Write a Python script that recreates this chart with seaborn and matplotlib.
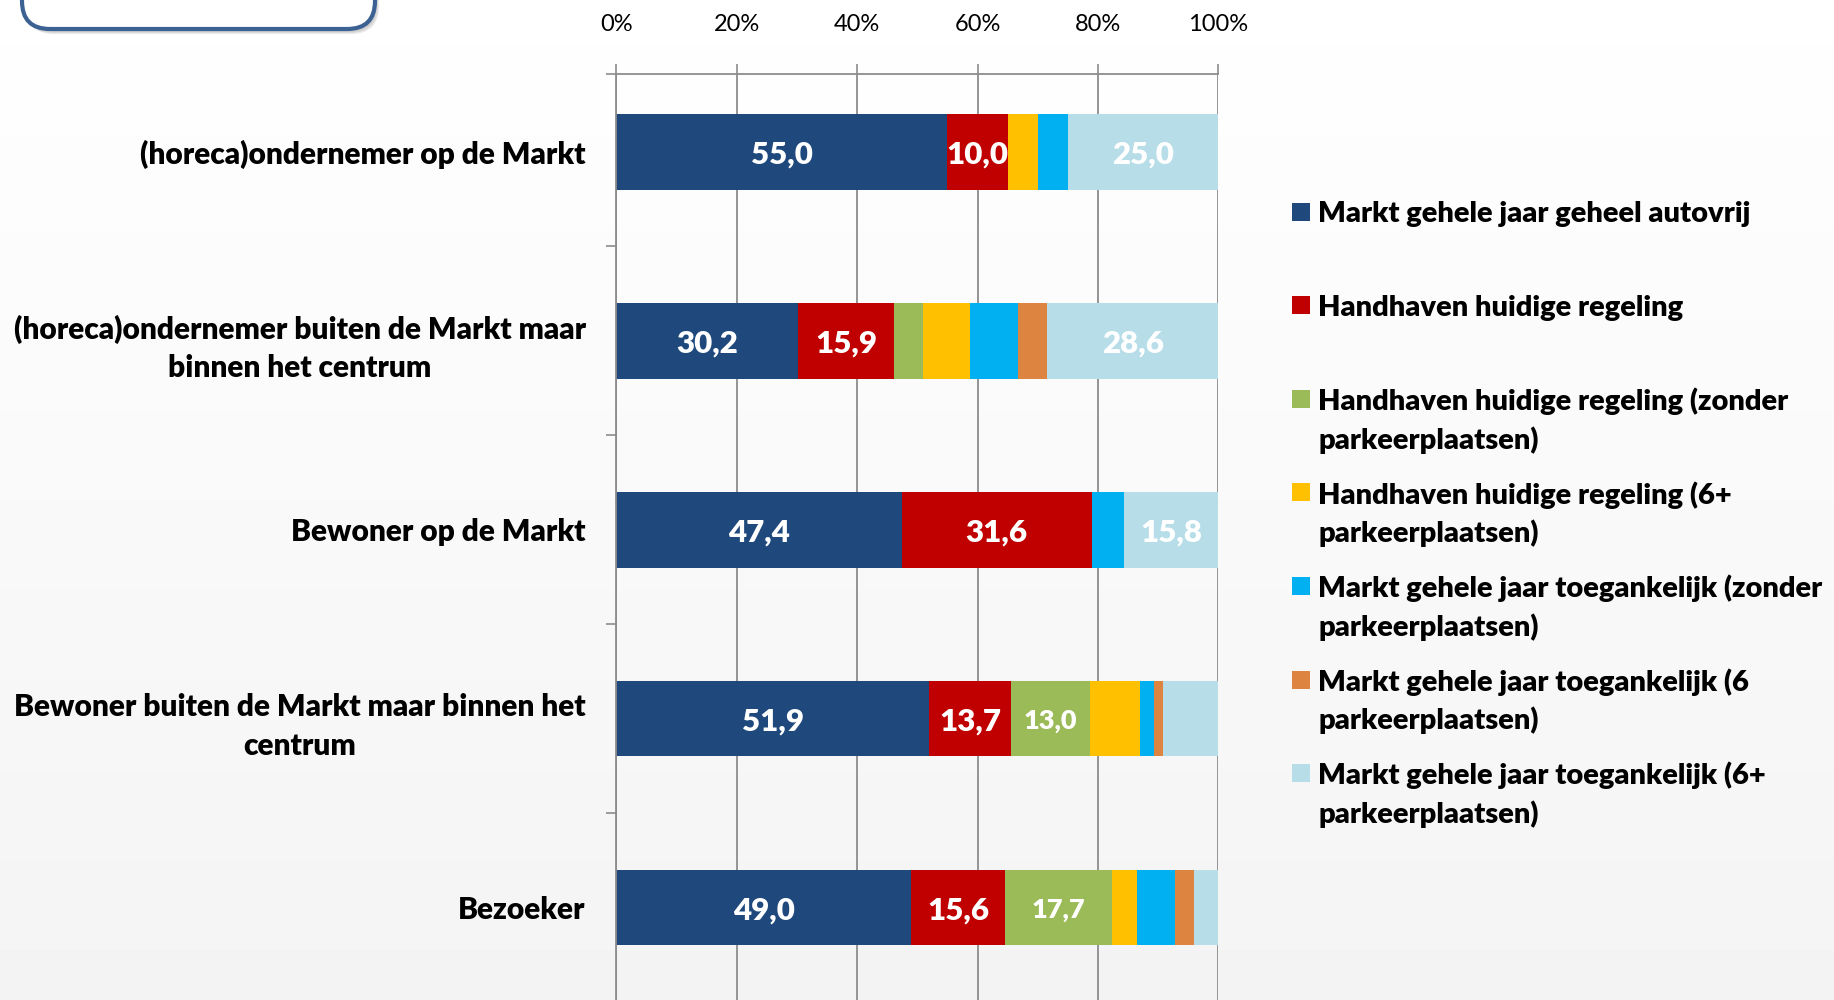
import numpy as np
import pandas as pd
import seaborn as sns
import matplotlib.pyplot as plt
from matplotlib.patches import FancyBboxPatch, Rectangle

# Data (percentages per respondent group)
categories = ['(horeca)ondernemer op de Markt',
              '(horeca)ondernemer buiten de Markt maar\nbinnen het centrum',
              'Bewoner op de Markt',
              'Bewoner buiten de Markt maar binnen het\ncentrum',
              'Bezoeker']

series_names = ['Markt gehele jaar geheel autovrij',
                'Handhaven huidige regeling',
                'Handhaven huidige regeling (zonder parkeerplaatsen)',
                'Handhaven huidige regeling (6+ parkeerplaatsen)',
                'Markt gehele jaar toegankelijk (zonder parkeerplaatsen)',
                'Markt gehele jaar toegankelijk (6 parkeerplaatsen)',
                'Markt gehele jaar toegankelijk (6+ parkeerplaatsen)']

legend_lines = [['Markt gehele jaar geheel autovrij'],
                ['Handhaven huidige regeling'],
                ['Handhaven huidige regeling (zonder', 'parkeerplaatsen)'],
                ['Handhaven huidige regeling (6+', 'parkeerplaatsen)'],
                ['Markt gehele jaar toegankelijk (zonder', 'parkeerplaatsen)'],
                ['Markt gehele jaar toegankelijk (6', 'parkeerplaatsen)'],
                ['Markt gehele jaar toegankelijk (6+', 'parkeerplaatsen)']]

autovrij = [55.0, 30.2, 47.4, 51.9, 49.0]
huidig = [10.0, 15.9, 31.6, 13.7, 15.6]
huidig_zonder = [0.0, 4.8, 0.0, 13.0, 17.7]
huidig_6plus = [5.0, 7.9, 0.0, 8.4, 4.2]
toeg_zonder = [5.0, 7.9, 5.3, 2.3, 6.3]
toeg_6 = [0.0, 4.8, 0.0, 1.5, 3.1]
toeg_6plus = [25.0, 28.6, 15.8, 9.2, 4.2]

colors = ['#1F497D', '#C00000', '#9BBB59', '#FFC000', '#00B0F0', '#DC8440', '#B7DEE8']
xticks = [0, 20, 40, 60, 80, 100]

df = pd.DataFrame(dict(zip(series_names,
                           [autovrij, huidig, huidig_zonder, huidig_6plus,
                            toeg_zonder, toeg_6, toeg_6plus])))
df['categorie'] = categories
cum = df[series_names].cumsum(axis=1)
cum['categorie'] = categories

plt.rcParams['font.family'] = ['Lato', 'DejaVu Sans']
grid_col = '#8c8c8c'
weight = 'heavy'

fig = plt.figure(figsize=(18.34, 10), dpi=100)

# background with soft gradient
bg = fig.add_axes([0, 0, 1, 1], zorder=0)
grad = np.linspace(0.998, 0.955, 200).reshape(-1, 1)
bg.imshow(grad, cmap='gray', vmin=0, vmax=1, aspect='auto',
          extent=[0, 1834, 1000, 0])
bg.set_xlim(0, 1834)
bg.set_ylim(1000, 0)
bg.axis('off')

# top-left rounded box with shadow
for k, a in enumerate([0.12, 0.12, 0.15]):
    bg.add_patch(FancyBboxPatch((22 + 2 + k, -60 + 3 + k), 353, 89,
                                boxstyle='round,pad=0,rounding_size=28',
                                fc='#707070', ec='none', alpha=a))
bg.add_patch(FancyBboxPatch((22, -60), 353, 89,
                            boxstyle='round,pad=0,rounding_size=28',
                            fc='white', ec='#3C6294', lw=3))

# main chart
ax = fig.add_axes([616.3 / 1834, 0, (1218.4 - 616.3) / 1834, (1000 - 73.6) / 1000],
                  zorder=1)
ax.set_facecolor('none')

# stacked bars: draw cumulative totals from the last series to the first
for name, col in reversed(list(zip(series_names, colors))):
    sns.barplot(data=cum, x=name, y='categorie', color=col, saturation=1,
                width=0.4, orient='h', edgecolor='none', linewidth=0, ax=ax)

for j, name in enumerate(series_names):
    for i in range(len(categories)):
        v = df[name].iloc[i]
        if v >= 10:
            ax.text(cum[name].iloc[i] - v / 2, i, f'{v:.1f}'.replace('.', ','),
                    ha='center', va='center_baseline', color='white', fontweight=weight,
                    fontsize=19.5 if name == series_names[2] else 22.5, zorder=5)

ax.set_xlim(0, 100)
ax.set_ylim(4.489, -0.415)
ax.set_xlabel('')
ax.set_ylabel('')

ax.xaxis.tick_top()
ax.set_xticks(xticks)
ax.set_xticklabels([f'{t}%' for t in xticks], fontsize=17)
ax.tick_params(axis='x', top=True, length=7.5, width=1.2, color=grid_col, pad=20)
ax.grid(axis='x', color=grid_col, linewidth=1.3)
ax.set_axisbelow(True)

ax.set_yticks(range(len(categories)))
ax.set_yticklabels(categories, fontsize=21.5, fontweight=weight, linespacing=1.45)
for lbl in ax.get_yticklabels():
    lbl.set_multialignment('center')
ax.tick_params(axis='y', length=0, pad=22)
ax.set_yticks([-0.415, 0.5, 1.5, 2.5, 3.5], minor=True)
ax.tick_params(axis='y', which='minor', length=7, width=1.2, color=grid_col)

for s in ['right', 'bottom']:
    ax.spines[s].set_visible(False)
for s in ['left', 'top']:
    ax.spines[s].set_color(grid_col)
    ax.spines[s].set_linewidth(1.3)

# legend
y0, step, line_h = 211.7, 93.56, 38.6
for k, (lines, col) in enumerate(zip(legend_lines, colors)):
    y = y0 + k * step
    bg.add_patch(Rectangle((1292, y - 9), 18, 18, fc=col, ec='none'))
    for j, line in enumerate(lines):
        bg.text(1318, y + j * line_h, line, ha='left', va='center_baseline',
                fontsize=21, fontweight=weight, color='black')

fig.savefig('out.png', dpi=100)
